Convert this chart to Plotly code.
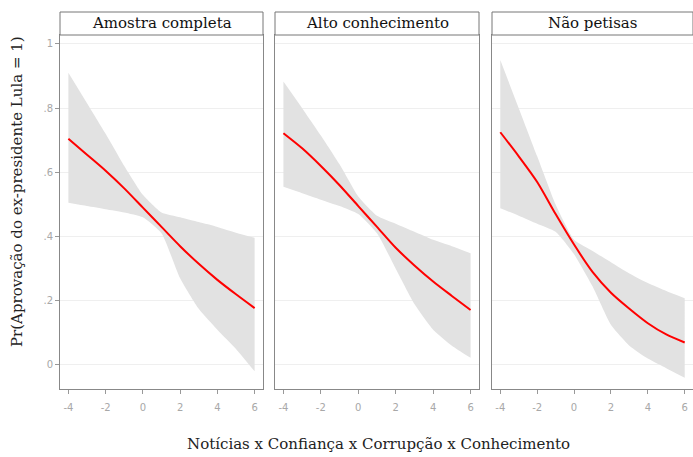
import plotly.graph_objects as go
from plotly.subplots import make_subplots

x_vals = [-4, -3, -2, -1, 0, 1, 2, 3, 4, 5, 6]

panel_titles = ["Amostra completa", "Alto conhecimento", "Não petisas"]

# Panel 1: Amostra completa
p1_mean = [0.705, 0.655, 0.605, 0.550, 0.490, 0.430, 0.370, 0.315, 0.265, 0.220, 0.177]
p1_upper = [0.910, 0.815, 0.720, 0.620, 0.530, 0.475, 0.460, 0.445, 0.430, 0.412, 0.396]
p1_lower = [0.505, 0.495, 0.485, 0.475, 0.460, 0.410, 0.270, 0.175, 0.110, 0.050, -0.020]

# Panel 2: Alto conhecimento
p2_mean = [0.722, 0.675, 0.620, 0.560, 0.495, 0.430, 0.365, 0.310, 0.260, 0.215, 0.171]
p2_upper = [0.883, 0.800, 0.715, 0.625, 0.525, 0.465, 0.440, 0.415, 0.390, 0.370, 0.348]
p2_lower = [0.555, 0.535, 0.515, 0.495, 0.470, 0.410, 0.300, 0.190, 0.110, 0.060, 0.022]

# Panel 3: Não petisas
p3_mean = [0.725, 0.650, 0.570, 0.470, 0.375, 0.290, 0.225, 0.175, 0.130, 0.095, 0.070]
p3_upper = [0.950, 0.800, 0.650, 0.500, 0.390, 0.355, 0.320, 0.285, 0.255, 0.230, 0.208]
p3_lower = [0.488, 0.465, 0.440, 0.415, 0.345, 0.245, 0.125, 0.060, 0.020, -0.010, -0.040]

panels = [(p1_mean, p1_upper, p1_lower), (p2_mean, p2_upper, p2_lower), (p3_mean, p3_upper, p3_lower)]

x_ticks = [-4, -2, 0, 2, 4, 6]
x_ticktext = ["-4", "-2", "0", "2", "4", "6"]
y_ticks = [0, 0.2, 0.4, 0.6, 0.8, 1]
y_ticktext = ["0", ".2", ".4", ".6", ".8", "1"]

W, H = 693, 457
ml, mr, mt, mb = 60, 0, 35, 68
pw = W - ml - mr
ph = H - mt - mb

# panel pixel extents (relative to plot area left)
px_ranges = [(0, 203), (215, 419), (432, 633)]
domains = [[a / pw, min(1.0, b / pw)] for a, b in px_ranges]

fig = make_subplots(rows=1, cols=3, shared_yaxes=False)

band_color = "rgb(226,226,226)"
line_color = "#ff0000"

for i, (m, u, l) in enumerate(panels):
    col = i + 1
    fig.add_trace(go.Scatter(x=x_vals, y=l, mode="lines", line=dict(width=0, color=band_color, shape="spline", smoothing=0.5),
                             showlegend=False, hoverinfo="skip"), row=1, col=col)
    fig.add_trace(go.Scatter(x=x_vals, y=u, mode="lines", line=dict(width=0, color=band_color, shape="spline", smoothing=0.5),
                             fill="tonexty", fillcolor=band_color, showlegend=False, hoverinfo="skip"), row=1, col=col)
    fig.add_trace(go.Scatter(x=x_vals, y=m, mode="lines", line=dict(width=2, color=line_color, shape="spline", smoothing=0.8),
                             showlegend=False), row=1, col=col)

for i in range(3):
    xa = "xaxis" if i == 0 else f"xaxis{i+1}"
    ya = "yaxis" if i == 0 else f"yaxis{i+1}"
    fig.layout[xa].update(domain=domains[i], range=[-4.45, 6.45], tickvals=x_ticks, ticktext=x_ticktext,
                          ticks="outside", ticklen=4, tickcolor="#999999", showgrid=False, zeroline=False,
                          showline=True, linecolor="#888888", linewidth=1, mirror=True, automargin=False,
                          ticklabelstandoff=5,
                          tickfont=dict(family="DejaVu Sans", size=10, color="#a8a8a8"))
    fig.layout[ya].update(domain=[0, 1], range=[-0.075, 1.028], tickvals=y_ticks, ticktext=y_ticktext,
                          ticks="outside" if i == 0 else "", ticklen=4, tickcolor="#999999",
                          showticklabels=(i == 0), showgrid=True, gridcolor="#efefef", gridwidth=1,
                          zeroline=False, showline=True, linecolor="#888888", linewidth=1, mirror=True,
                          automargin=False,
                          tickfont=dict(family="DejaVu Sans", size=10, color="#a8a8a8"))

# header strips
hdr = 23 / ph
shapes = []
annotations = []
for i in range(3):
    x0, x1 = domains[i]
    shapes.append(dict(type="rect", xref="paper", yref="paper", x0=x0, x1=x1, y0=1, y1=1 + hdr,
                       line=dict(color="#777777", width=1), fillcolor="white", layer="above"))
    annotations.append(dict(text=panel_titles[i], xref="paper", yref="paper", x=(x0 + x1) / 2, y=1 + hdr / 2,
                            showarrow=False, xanchor="center", yanchor="middle",
                            font=dict(family="DejaVu Serif", size=15, color="#111111")))

annotations.append(dict(text="Pr(Aprovação do ex-presidente Lula = 1)", xref="paper", yref="paper",
                        x=-(ml - 6) / pw, y=(mt + ph - 192) / ph, textangle=-90, showarrow=False,
                        xanchor="left", yanchor="middle",
                        font=dict(family="DejaVu Serif", size=15, color="#222222")))
annotations.append(dict(text="Notícias x Confiança x Corrupção x Conhecimento", xref="paper", yref="paper",
                        x=(378 - ml) / pw, y=-(444 - (mt + ph)) / ph, showarrow=False, xanchor="center", yanchor="middle",
                        font=dict(family="DejaVu Serif", size=15, color="#222222")))

fig.update_layout(width=W, height=H, margin=dict(l=ml, r=mr, t=mt, b=mb, autoexpand=False),
                  paper_bgcolor="white", plot_bgcolor="white",
                  shapes=shapes, annotations=annotations, showlegend=False)

fig.write_html("out.html", config={"displayModeBar": False},
               post_script="document.body.style.margin='0';document.body.style.overflow='hidden';")
